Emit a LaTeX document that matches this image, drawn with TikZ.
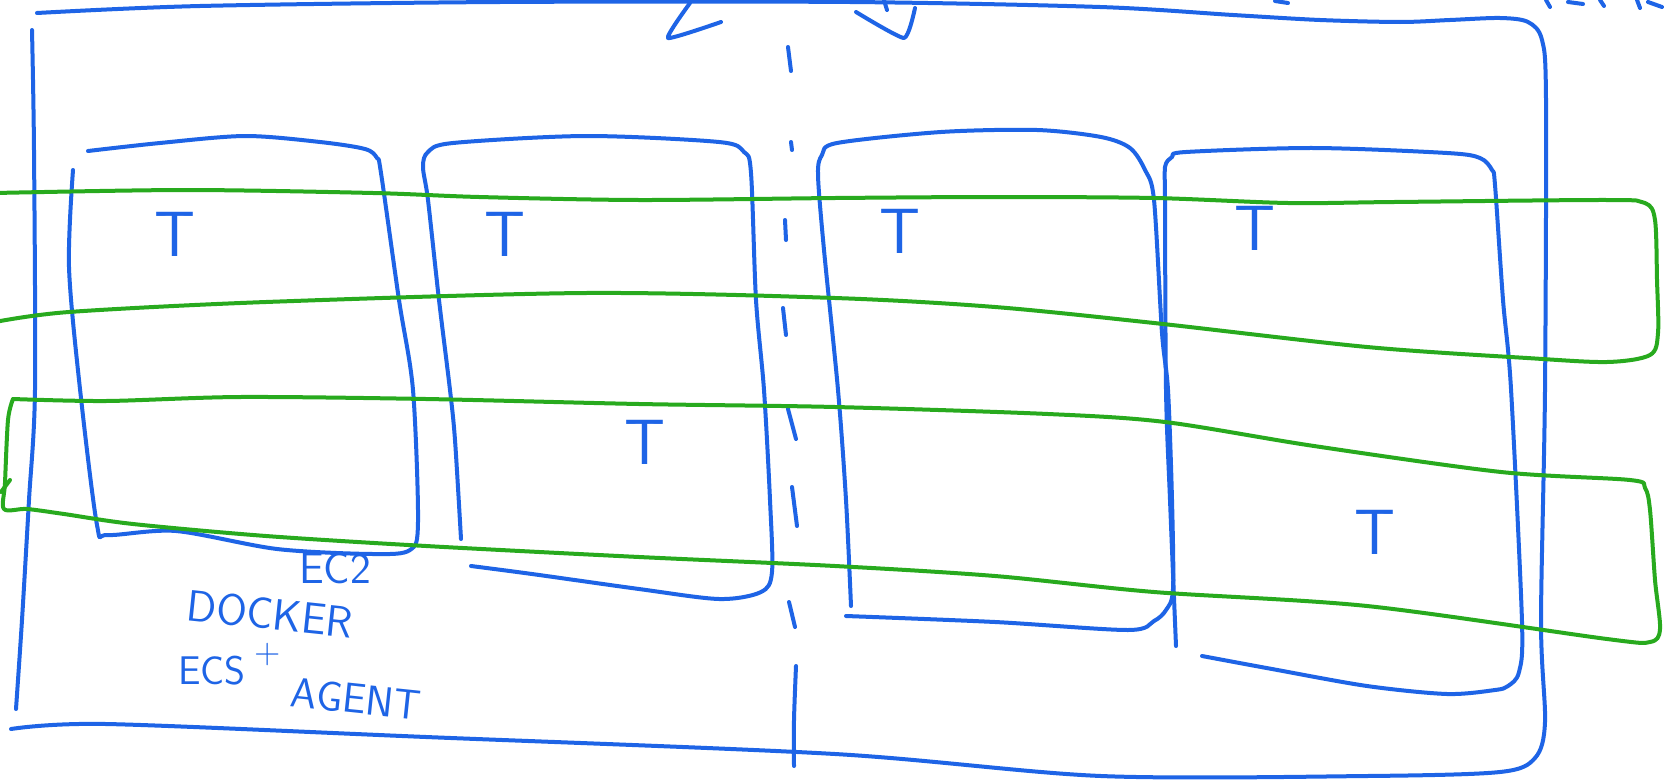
\documentclass[tikz,border=0pt]{standalone}
\definecolor{penblue}{RGB}{30,100,230}
\definecolor{pengreen}{RGB}{40,170,30}
\tikzset{
  bluepen/.style={draw=penblue, line width=4pt, line cap=round, line join=round},
  greenpen/.style={draw=pengreen, line width=4pt, line cap=round, line join=round},
  tlabel/.style={text=penblue, inner sep=0pt, font=\sffamily\fontsize{64}{64}\selectfont},
  hand/.style={text=penblue, inner sep=0pt, font=\sffamily\fontsize{44}{44}\selectfont}
}
\begin{document}
\begin{tikzpicture}[x=1pt,y=-1pt]
\useasboundingbox (0,0) rectangle (1670,779);
\clip (0,0) rectangle (1670,779);
\fill[white] (0,0) rectangle (1670,779);

% outer cluster box
\draw[bluepen] plot[smooth,tension=0.5] coordinates {(37,13) (200,6) (500,2) (850,2) (1100,7) (1233,15) (1320,20) (1400,22) (1450,20) (1500,18) (1528,22) (1542,40) (1546,100) (1545,390) (1541,622) (1545,722) (1535,758) (1500,772) (1367,776) (1101,776) (835,754) (426,737) (106,724) (11,729)};
\draw[bluepen] plot[smooth,tension=0.5] coordinates {(32,30) (34,150) (35,390) (29,500) (22,620) (16,709)};

% top marks
\draw[bluepen] plot[smooth,tension=0.3] coordinates {(690,3) (668,38) (721,22)};
\draw[bluepen] plot[smooth,tension=0.3] coordinates {(856,12) (904,38) (915,8)};
\draw[bluepen] (884,0) -- (887,10);

% cut-off text at top right
\draw[bluepen] (1275,1) -- (1288,3);
\draw[bluepen] (1546,0) -- (1550,7);
\draw[bluepen] (1568,2) -- (1583,4);
\draw[bluepen] (1600,0) -- (1604,6);
\draw[bluepen] (1637,0) -- (1640,8);
\draw[bluepen] (1648,2) -- (1662,7);

% dashed centre line
\draw[bluepen] (788,47) -- (791,71);
\draw[bluepen] (791,142) -- (792,150);
\draw[bluepen] (785,220) -- (786,240);
\draw[bluepen] (783,308) -- (786,335);
\draw[bluepen] (788,409) -- (796,439);
\draw[bluepen] (792,487) -- (797,526);
\draw[bluepen] (789,602) -- (795,627);
\draw[bluepen] plot[smooth,tension=0.5] coordinates {(796,666) (794,720) (794,766)};

% box 1
\draw[bluepen] plot[smooth,tension=0.5] coordinates {(88,151) (160,143) (245,136) (320,142) (365,149) (377,158) (381,173) (399,300) (413,390) (418,522) (410,550) (373,554) (277,549) (176,531) (108,535) (97,525) (80,389) (69,267) (73,170)};
% box 2
\draw[bluepen] plot[smooth,tension=0.5] coordinates {(461,539) (455,440) (450,390) (439,300) (428,200) (423,167) (428,152) (453,143) (586,136) (719,142) (744,152) (751,173) (756,300) (764,390) (770,500) (772,572) (761,592) (719,599) (639,589) (532,574) (471,566)};
% box 3
\draw[bluepen] plot[smooth,tension=0.5] coordinates {(851,606) (846,500) (838,390) (824,250) (818,175) (822,155) (837,143) (941,132) (1037,130) (1101,137) (1130,148) (1145,170) (1154,200) (1162,333) (1168,390) (1172,500) (1173,589) (1166,610) (1154,621) (1128,630) (995,622) (846,616)};
% box 4
\draw[bluepen] plot[smooth,tension=0.5] coordinates {(1176,646) (1170,500) (1166,390) (1165,200) (1165,167) (1172,157) (1186,152) (1314,148) (1447,153) (1480,158) (1492,170) (1495,185) (1503,300) (1511,389) (1522,622) (1519,672) (1508,686) (1495,690) (1447,694) (1367,686) (1272,669) (1202,656)};

% green band A (open at left)
\draw[greenpen] plot[smooth,tension=0.5] coordinates {(-5,193) (186,190) (373,193) (479,197) (639,200) (835,198) (995,197) (1154,198) (1288,203) (1394,202) (1607,200) (1645,203) (1655,220) (1657,280) (1658,333) (1650,355) (1607,362) (1527,358) (1367,347) (1154,323) (995,307) (835,298) (586,293) (266,302) (69,312) (-5,322)};
% green band B
\draw[greenpen] plot[smooth,tension=0.5] coordinates {(13,399) (106,401) (240,397) (426,399) (639,404) (835,407) (1048,414) (1165,422) (1314,446) (1501,472) (1630,480) (1645,488) (1650,510) (1655,580) (1660,629) (1650,642) (1607,639) (1367,606) (1154,592) (995,576) (835,566) (639,557) (426,546) (266,536) (133,524) (64,514) (27,509) (4,509) (5,483) (8,420) (13,399)};
\draw[greenpen] (10,480) -- (1,492);

% task labels
\node[tlabel] (t1) at (175,234) {T};
\node[tlabel] (t2) at (505,234) {T};
\node[tlabel] (t3) at (900,231) {T};
\node[tlabel] (t4) at (1255,228) {T};
\node[tlabel] (t5) at (645,442) {T};
\node[tlabel] (t6) at (1375,532) {T};

% instance annotation
\node[hand] (ec2) at (335,568) {EC2};
\node[hand, rotate=-6] (docker) at (270,614) {DOCKER};
\node[hand, font=\sffamily\fontsize{36}{36}\selectfont] (plus) at (268,655) {+};
\node[hand, font=\sffamily\fontsize{40}{40}\selectfont] (ecs) at (212,671) {ECS};
\node[hand, rotate=-6, font=\sffamily\fontsize{42}{42}\selectfont] (agent) at (356,699) {AGENT};
\end{tikzpicture}
\end{document}
